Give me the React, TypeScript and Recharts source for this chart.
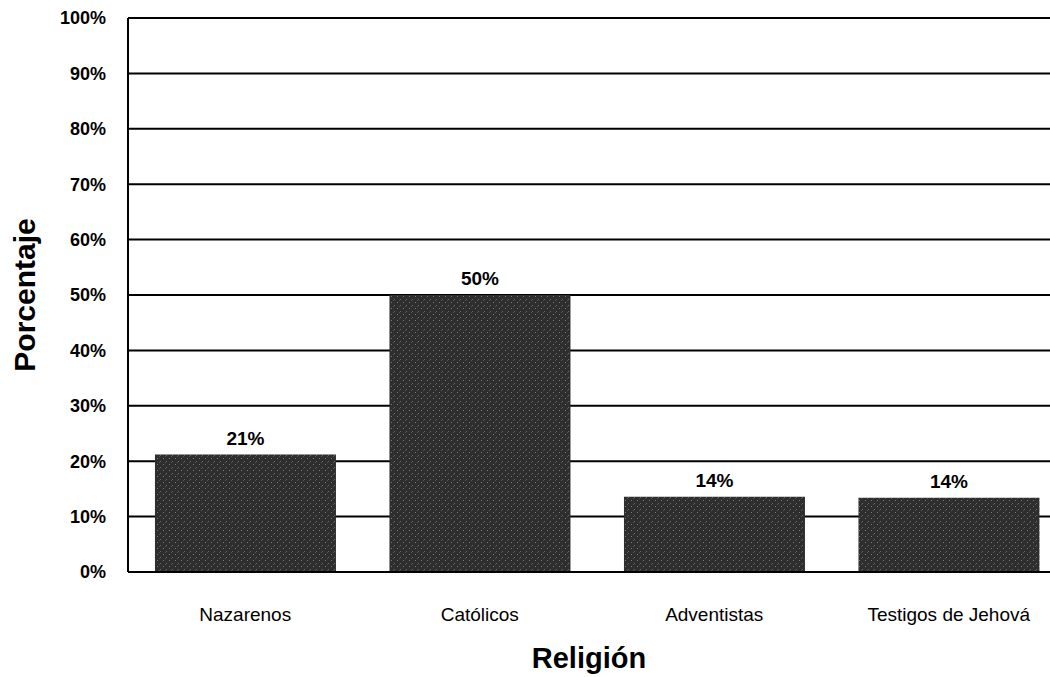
import React from "react";
import { BarChart, Bar, XAxis, YAxis, CartesianGrid, LabelList, Label } from "recharts";

// Religión de los encuestados (%)
const religions = ["Nazarenos", "Católicos", "Adventistas", "Testigos de Jehová"];
const percentages = [21.2, 50, 13.6, 13.4];
const valueLabels = ["21%", "50%", "14%", "14%"];
const yTicks = [0, 10, 20, 30, 40, 50, 60, 70, 80, 90, 100];

const data = religions.map((r, i) => ({
  religion: r,
  pct: percentages[i],
  label: valueLabels[i],
}));

const FONT = "'Liberation Sans', Arial, sans-serif";

export default function App() {
  return (
    <div style={{ position: "absolute", left: 0, top: 0, background: "#fff" }}>
      <BarChart
        width={1066}
        height={677}
        data={data}
        margin={{ top: 18, right: 0, bottom: 0, left: 0 }}
        barCategoryGap="11.5%"
      >
        <defs>
          <pattern id="grain" width="6" height="6" patternUnits="userSpaceOnUse">
            <rect width="6" height="6" fill="#2e2e2e" />
            <rect x="1" y="2" width="1" height="1" fill="#777" />
            <rect x="4" y="5" width="1" height="1" fill="#666" />
            <rect x="3" y="0" width="1" height="1" fill="#555" />
          </pattern>
        </defs>
        <CartesianGrid vertical={false} stroke="#000" strokeWidth={2} strokeOpacity={1} />
        <XAxis
          dataKey="religion"
          height={105}
          axisLine={{ stroke: "#000", strokeWidth: 2 }}
          tickLine={false}
          tickMargin={30}
          tick={{ fontSize: 19, fill: "#000", fontFamily: FONT }}
        >
          <Label
            value="Religión"
            position="insideBottom"
            offset={9}
            dx={-8}
            style={{ fontSize: 29, fontWeight: 700, fill: "#000", fontFamily: FONT }}
          />
        </XAxis>
        <YAxis
          width={128}
          domain={[0, 100]}
          ticks={yTicks}
          interval={0}
          axisLine={{ stroke: "#000", strokeWidth: 2 }}
          tickLine={false}
          tickMargin={16}
          tickFormatter={(v) => `${v}%`}
          tick={{ fontSize: 18, fontWeight: 700, fill: "#000", fontFamily: FONT }}
        >
          <Label
            value="Porcentaje"
            angle={-90}
            position="insideLeft"
            offset={24}
            style={{ fontSize: 30, fontWeight: 700, fill: "#000", fontFamily: FONT, textAnchor: "middle" }}
          />
        </YAxis>
        <Bar dataKey="pct" fill="url(#grain)" isAnimationActive={false}>
          <LabelList
            dataKey="label"
            position="top"
            offset={10}
            style={{ fontSize: 19, fontWeight: 700, fill: "#000", fontFamily: FONT }}
          />
        </Bar>
      </BarChart>
    </div>
  );
}
